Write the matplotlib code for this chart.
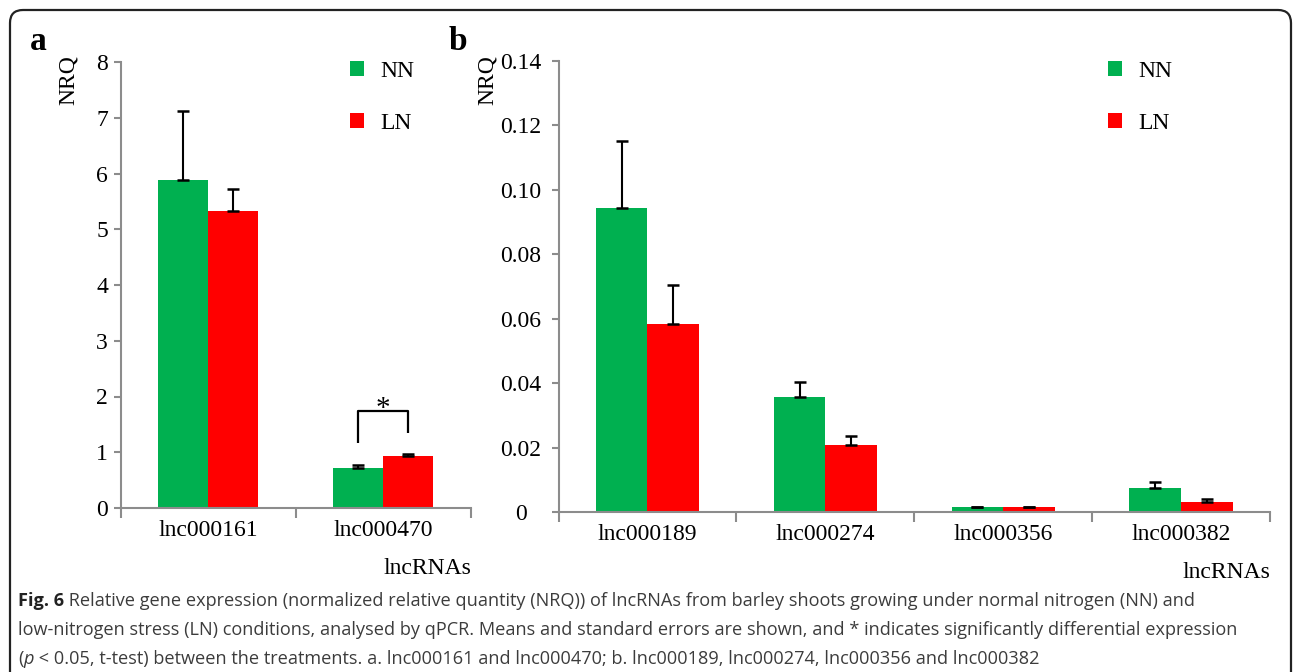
import numpy as np
import matplotlib
matplotlib.use('Agg')
import matplotlib.pyplot as plt
from matplotlib.patches import FancyBboxPatch

# panel a
genes_a = ['lnc000161', 'lnc000470']
nn_a = [5.88, 0.72]
nn_a_err = [1.25, 0.06]
ln_a = [5.32, 0.94]
ln_a_err = [0.40, 0.03]
yticks_a = [0, 1, 2, 3, 4, 5, 6, 7, 8]
# significance bracket on lnc000470 (left foot, top, right foot)
bracket_a = [1.17, 1.74, 1.35]

# panel b
genes_b = ['lnc000189', 'lnc000274', 'lnc000356', 'lnc000382']
nn_b = [0.0945, 0.0356, 0.0015, 0.0075]
nn_b_err = [0.0207, 0.0049, 0.0001, 0.0018]
ln_b = [0.0585, 0.0207, 0.0015, 0.0030]
ln_b_err = [0.0120, 0.0030, 0.0001, 0.0010]
yticks_b = [0, 0.02, 0.04, 0.06, 0.08, 0.10, 0.12, 0.14]
yticklabels_b = ['0', '0.02', '0.04', '0.06', '0.08', '0.10', '0.12', '0.14']

caption = [
    [('Fig. 6', 'bold', 'normal'),
     (' Relative gene expression (normalized relative quantity (NRQ)) of lncRNAs from barley shoots '
      'growing under normal nitrogen (NN) and', 'normal', 'normal')],
    [('low-nitrogen stress (LN) conditions, analysed by qPCR. Means and standard errors are shown, '
      'and * indicates significantly differential expression', 'normal', 'normal')],
    [('(', 'normal', 'normal'), ('p', 'normal', 'italic'),
     (' < 0.05, t-test) between the treatments. a. lnc000161 and lnc000470; b. lnc000189, '
      'lnc000274, lnc000356 and lnc000382', 'normal', 'normal')],
]

GREEN = '#00b050'
RED = '#ff0000'
AXC = '#8c8c8c'
W, H = 1293, 672

plt.rcParams['font.family'] = ['Liberation Serif', 'DejaVu Serif']
fig = plt.figure(figsize=(W / 100, H / 100), dpi=100)


def px(x0, y0, x1, y1):
    # pixel box (top-left origin) -> figure fraction rect
    return [x0 / W, 1 - y1 / H, (x1 - x0) / W, (y1 - y0) / H]


def panel(ax, genes, nn, nn_err, ln, ln_err, width, ylim, yticks, yticklabels):
    x = np.arange(len(genes))
    ax.bar(x - width / 2, nn, width, color=GREEN, label='NN', zorder=2)
    ax.bar(x + width / 2, ln, width, color=RED, label='LN', zorder=2)
    ax.errorbar(x - width / 2, nn, yerr=[np.zeros(len(nn)), nn_err], fmt='none',
                ecolor='black', elinewidth=1.5, capsize=4.5, capthick=1.8, zorder=3)
    ax.errorbar(x + width / 2, ln, yerr=[np.zeros(len(ln)), ln_err], fmt='none',
                ecolor='black', elinewidth=1.5, capsize=4.5, capthick=1.8, zorder=3)
    ax.set_xlim(-0.5, len(genes) - 0.5)
    ax.set_ylim(*ylim)
    for s in ('top', 'right'):
        ax.spines[s].set_visible(False)
    for s in ('left', 'bottom'):
        ax.spines[s].set_color(AXC)
        ax.spines[s].set_linewidth(1.5)
    ax.set_xticks(x)
    ax.set_xticklabels(genes, fontsize=17)
    ax.set_xticks(np.arange(len(genes) + 1) - 0.5, minor=True)
    ax.tick_params(axis='x', which='major', length=0, pad=9)
    ax.tick_params(axis='x', which='minor', length=7, width=1.5, color=AXC, direction='out')
    ax.set_yticks(yticks)
    ax.set_yticklabels(yticklabels, fontsize=17)
    ax.tick_params(axis='y', length=5, width=1.5, color=AXC, direction='out')
    ax.text(1.0, -0.135, 'lncRNAs', transform=ax.transAxes, ha='right', va='center',
            fontsize=17)
    return x


leg_kw = dict(loc='upper left', bbox_transform=fig.transFigure, frameon=False,
              fontsize=17, handlelength=0.6, handleheight=0.6, handletextpad=0.7,
              labelspacing=1.3, borderpad=0, borderaxespad=0)

# panel a
ax1 = fig.add_axes(px(120.5, 62, 471, 508))
x1 = panel(ax1, genes_a, nn_a, nn_a_err, ln_a, ln_a_err, 0.286, (0, 8),
           yticks_a, [str(v) for v in yticks_a])
ax1.tick_params(axis='y', pad=4)
w = 0.286
ax1.plot([x1[1] - w / 2, x1[1] - w / 2, x1[1] + w / 2, x1[1] + w / 2],
         [bracket_a[0], bracket_a[1], bracket_a[1], bracket_a[2]],
         color='black', lw=1.6, solid_capstyle='butt', zorder=3)
ax1.text(x1[1], bracket_a[1] - 0.2, '*', ha='center', va='bottom', fontsize=21)
ax1.legend(bbox_to_anchor=(350 / W, 1 - 61 / H), **leg_kw)

# panel b
ax2 = fig.add_axes(px(558.5, 61, 1270, 512))
panel(ax2, genes_b, nn_b, nn_b_err, ln_b, ln_b_err, 0.29, (0, 0.14),
      yticks_b, yticklabels_b)
for lab in ax2.get_yticklabels():
    lab.set_horizontalalignment('center')
ax2.tick_params(axis='y', pad=22)
ax2.legend(bbox_to_anchor=(1108 / W, 1 - 61 / H), **leg_kw)

# panel letters and y labels
fig.text(38 / W, 1 - 42 / H, 'a', fontsize=24, fontweight='bold', ha='center', va='center')
fig.text(458 / W, 1 - 42 / H, 'b', fontsize=24, fontweight='bold', ha='center', va='center')
fig.text(68 / W, 1 - 80 / H, 'NRQ', fontsize=17, rotation=90, ha='center', va='center')
fig.text(487 / W, 1 - 80 / H, 'NRQ', fontsize=17, rotation=90, ha='center', va='center')

# outer rounded frame (open at the bottom)
frame = FancyBboxPatch((0.10, -1.0), 12.81, 7.62,
                       boxstyle='round,pad=0,rounding_size=0.13',
                       transform=fig.dpi_scale_trans, fill=False,
                       edgecolor='#222222', lw=1.6, clip_on=False)
fig.patches.append(frame)

# caption
renderer = fig.canvas.get_renderer()
line_y = [601, 630, 659]
for runs, ly in zip(caption, line_y):
    xpos = 18
    for s, weight, style in runs:
        t = fig.text(xpos / W, 1 - ly / H, s, fontsize=13.1, family='Open Sans',
                     fontweight=weight, fontstyle=style, va='center', ha='left',
                     color='#222222' if weight == 'bold' else '#3c3c3c')
        bb = t.get_window_extent(renderer)
        xpos = bb.x1 * 100 / fig.dpi

fig.savefig('out.png', dpi=100)
